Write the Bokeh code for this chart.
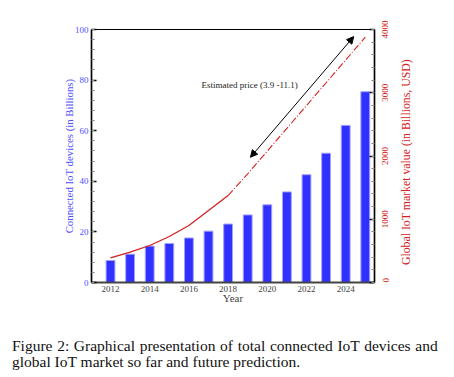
import math
from bokeh.plotting import figure
from bokeh.layouts import column, row
from bokeh.core.properties import value
from bokeh.models import (LinearAxis, Range1d, FixedTicker, Arrow, NormalHead, Label, Div)
from bokeh.embed import file_html
from bokeh.resources import INLINE

years = [2012, 2013, 2014, 2015, 2016, 2017, 2018, 2019, 2020, 2021, 2022, 2023, 2024, 2025]
devices = [8.7, 11.2, 14.4, 15.4, 17.6, 20.3, 23.1, 26.7, 30.7, 35.8, 42.6, 51.1, 62.1, 75.4]
market_years_hist = [2012, 2013, 2014, 2015, 2016, 2017, 2018]
market_hist = [390, 479, 585, 727, 901, 1138, 1375]
market_years_pred = [2018, 2019, 2020, 2021, 2022, 2023, 2024, 2025]
market_pred = [1375, 1718, 2078, 2438, 2798, 3158, 3518, 3878]
x_ticks = [2012, 2014, 2016, 2018, 2020, 2022, 2024]
left_ticks = [0, 20, 40, 60, 80, 100]
right_ticks = [0, 1000, 2000, 3000, 4000]
right_tick_labels = ["0", "1000", "2000", "3000", "4000"]
annot_text = "Estimated price (3.9 -11.1)"
right_title = "Global IoT market value (in Billions, USD)"
caption1 = "Figure 2: Graphical presentation of total connected IoT devices and"
caption2 = "global IoT market so far and future prediction."

SERIF = "Liberation Serif"
BLUE = "#4f4fff"
RED = "#d42020"
LEFT_MAX, RIGHT_MAX = 100, 4000

# layout geometry (pixels)
TOP, BOTTOM, FIG_H = 29, 38, 320
FRAME_W, FRAME_H = 283, FIG_H - TOP - BOTTOM
LEFT_B, RIGHT_B = 91, 16
P_W = LEFT_B + FRAME_W + RIGHT_B
SIDE_W = 454 - P_W
RIGHT_LABEL_PX = 9  # font size of right tick labels

X0, X1 = 2011.03, 2025.47
p = figure(frame_width=FRAME_W, frame_height=FRAME_H, x_range=Range1d(X0, X1), y_range=Range1d(0, LEFT_MAX),
           output_backend="svg", toolbar_location=None,
           min_border_left=LEFT_B, min_border_right=RIGHT_B, min_border_top=TOP, min_border_bottom=BOTTOM)
p.extra_y_ranges = {"mkt": Range1d(0, RIGHT_MAX)}
p.grid.visible = False
p.outline_line_color = "black"
p.outline_line_width = 1.2

p.vbar(x=years, top=devices, width=0.45, fill_color="#3030ff", line_color="#a0a0ff", line_width=1)
p.line(market_years_hist, market_hist, y_range_name="mkt", line_color=RED, line_width=1.3)
p.line(market_years_pred, market_pred, y_range_name="mkt", line_color=RED, line_width=1.1,
       line_dash="7 2 1 2")

# x axis
xa = p.xaxis[0]
xa.ticker = FixedTicker(ticks=x_ticks)
xa.axis_label = "Year"
xa.axis_label_text_font = SERIF
xa.axis_label_text_font_style = "normal"
xa.axis_label_text_font_size = "11px"
xa.axis_label_standoff = -3
xa.major_label_text_font = SERIF
xa.major_label_text_font_size = "9px"
xa.major_label_standoff = 3
xa.major_tick_in = 0
xa.major_tick_out = 0
xa.minor_tick_in = 0
xa.minor_tick_out = 0
xa.axis_line_color = "#444444"
xa.axis_line_width = 2

# left axis
ya = p.yaxis[0]
ya.ticker = FixedTicker(ticks=left_ticks, minor_ticks=[v for v in range(0, 101, 4)])
ya.axis_label = "Connected IoT devices (in Billions)"
ya.axis_label_text_font = SERIF
ya.axis_label_text_font_style = "normal"
ya.axis_label_text_font_size = "10.8px"
ya.axis_label_text_color = BLUE
ya.axis_label_standoff = -3
ya.major_label_text_font = SERIF
ya.major_label_text_font_size = "9px"
ya.major_label_text_color = BLUE
ya.major_label_standoff = 3
ya.major_tick_in = 5
ya.major_tick_out = 0
ya.major_tick_line_width = 1.5
ya.minor_tick_in = 3
ya.minor_tick_out = 0
ya.minor_tick_line_color = "#888888"
ya.axis_line_color = "black"
ya.axis_line_width = 1.5

# right axis A: line and inward ticks
ra = LinearAxis(y_range_name="mkt",
                ticker=FixedTicker(ticks=right_ticks, minor_ticks=list(range(0, 4001, 200))))
ra.major_label_overrides = {t: "" for t in right_ticks}
ra.major_label_standoff = 0
ra.major_tick_in = 5
ra.major_tick_out = 0
ra.major_tick_line_width = 1.5
ra.minor_tick_in = 3
ra.minor_tick_out = 0
ra.minor_tick_line_color = "#888888"
ra.axis_line_color = "black"
ra.axis_line_width = 1.5
p.add_layout(ra, "right")

# right axis B: upward-reading labels; an upward label starts at its tick, so its
# anchor is moved down by half the label length to centre it on the value
units_per_px = RIGHT_MAX / FRAME_H
half_len = [round(len(s) * 0.5 * RIGHT_LABEL_PX / 2 * units_per_px) if t > 0 else 0
            for t, s in zip(right_ticks, right_tick_labels)]
label_pos = [t - h for t, h in zip(right_ticks, half_len)]
rb = LinearAxis(y_range_name="mkt", ticker=FixedTicker(ticks=label_pos, minor_ticks=[]))
rb.major_label_overrides = dict(zip(label_pos, right_tick_labels))
rb.major_label_orientation = math.pi / 2
rb.major_label_text_font = SERIF
rb.major_label_text_font_size = f"{RIGHT_LABEL_PX}px"
rb.major_label_text_color = RED
rb.major_label_standoff = 11
rb.major_tick_in = 0
rb.major_tick_out = 0
rb.minor_tick_in = 0
rb.minor_tick_out = 0
rb.axis_line_color = None
p.add_layout(rb, "right")

# annotation arrow and text
arrow_start = (2019.14, 49.5)
arrow_end = (2024.41, 97.2)
p.add_layout(Arrow(x_start=arrow_start[0], y_start=arrow_start[1], x_end=arrow_end[0], y_end=arrow_end[1],
                   line_color="black", line_width=1,
                   start=NormalHead(size=7, fill_color="black", line_color="black"),
                   end=NormalHead(size=7, fill_color="black", line_color="black")))
p.add_layout(Label(x=2016.64, y=77.9, text=annot_text, text_font=SERIF, text_font_size="9px",
                   text_baseline="middle", text_color="#222222"))

# side panel for the right axis title (its frame lines up with the main frame)
p2 = figure(width=SIDE_W, height=FIG_H, x_range=Range1d(0, SIDE_W), y_range=Range1d(0, RIGHT_MAX),
            output_backend="svg", toolbar_location=None,
            x_axis_location=None, y_axis_location=None,
            min_border_left=0, min_border_right=0, min_border_top=0, min_border_bottom=0)
p2.grid.visible = False
p2.outline_line_color = None
p2.text(x=[401 - P_W], y=[RIGHT_MAX * 0.476], text=[right_title], angle=math.pi / 2,
        text_align="center", text_baseline="middle", text_font=value(SERIF),
        text_font_size="11.8px", text_color=RED)

# caption
cap_style = "margin:0;padding:0;font-family:'Liberation Serif';font-size:15.5px;line-height:16px;color:#111;"
caption = Div(width=454, height=57, text=(
    f'<div style="padding-top:13px;padding-left:7px;width:440px;">'
    f'<div style="{cap_style}white-space:nowrap;word-spacing:0.8px;">{caption1}</div>'
    f'<div style="{cap_style}white-space:nowrap;">{caption2}</div></div>'))

layout = column(row(p, p2, spacing=0), caption, spacing=0)
open("out.html", "w").write(file_html(layout, INLINE))
